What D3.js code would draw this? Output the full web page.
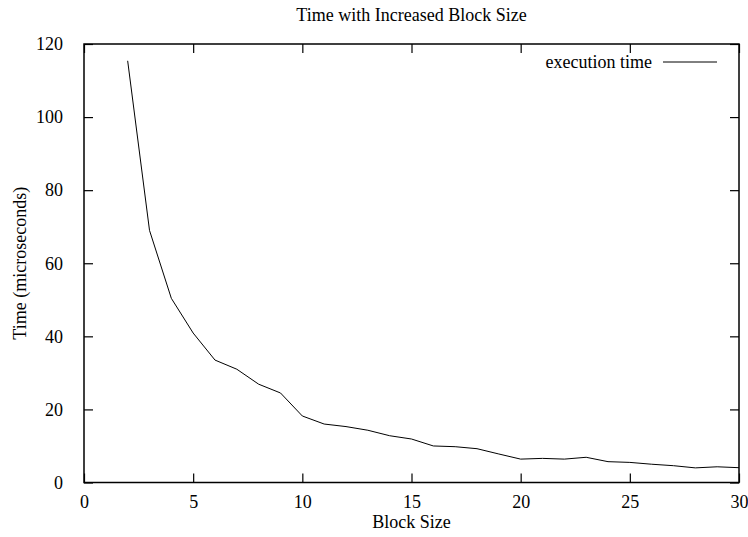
<!DOCTYPE html>
<html>
<head>
<meta charset="utf-8">
<script src="https://cdn.jsdelivr.net/npm/d3@7"></script>
<style>
  html, body { margin: 0; padding: 0; background: #fff; }
  svg { display: block; }
  text { font-family: "Liberation Serif", "Times New Roman", serif; fill: #000; }
</style>
</head>
<body>
<svg id="chart" width="748" height="537"></svg>
<script>
const blockSize = [2,3,4,5,6,7,8,9,10,11,12,13,14,15,16,17,18,19,20,21,22,23,24,25,26,27,28,29,30];
const execTime  = [115.4,69.0,50.4,40.9,33.5,31.0,26.9,24.5,18.2,16.0,15.3,14.3,12.8,11.9,10.0,9.8,9.25,7.8,6.4,6.6,6.4,6.9,5.7,5.5,5.0,4.6,4.0,4.3,4.05];
const xTicks = [0,5,10,15,20,25,30];
const yTicks = [0,20,40,60,80,100,120];
const title = "Time with Increased Block Size";
const xLabel = "Block Size";
const yLabel = "Time (microseconds)";
const legendLabel = "execution time";

const svg = d3.select("#chart");
const m = {left: 84, right: 739, top: 44, bottom: 482.5};
const x = d3.scaleLinear().domain([0, 30]).range([m.left, m.right]);
const y = d3.scaleLinear().domain([0, 120]).range([m.bottom, m.top]);
const fs = 18;
const font = '"Liberation Serif", "Times New Roman", serif';
const tick = 9;

const gx = svg.append("g").attr("transform", `translate(0,${m.bottom})`)
  .call(d3.axisBottom(x).tickValues(xTicks).tickSize(-tick).tickPadding(13).tickSizeOuter(0));
const gxt = svg.append("g").attr("transform", `translate(0,${m.top})`)
  .call(d3.axisTop(x).tickValues(xTicks).tickSize(-tick).tickFormat("").tickSizeOuter(0));
const gy = svg.append("g").attr("transform", `translate(${m.left},0)`)
  .call(d3.axisLeft(y).tickValues(yTicks).tickSize(-tick).tickPadding(21).tickSizeOuter(0));
const gyr = svg.append("g").attr("transform", `translate(${m.right},0)`)
  .call(d3.axisRight(y).tickValues(yTicks).tickSize(-tick).tickFormat("").tickSizeOuter(0));

[gx, gxt, gy, gyr].forEach(g => {
  g.attr("font-family", font).attr("font-size", fs);
  g.select(".domain").remove();
  g.selectAll("line").attr("stroke", "#000").attr("stroke-width", 1.2);
  g.selectAll("text").attr("fill", "#000");
});

svg.append("rect")
  .attr("x", m.left).attr("y", m.top)
  .attr("width", m.right - m.left).attr("height", m.bottom - m.top)
  .attr("fill", "none").attr("stroke", "#000").attr("stroke-width", 1.5);

const line = d3.line().x((d, i) => x(blockSize[i])).y(d => y(d));
svg.append("path").datum(execTime)
  .attr("d", line).attr("fill", "none").attr("stroke", "#000").attr("stroke-width", 1);

svg.append("text").attr("x", (m.left + m.right) / 2).attr("y", 21)
  .attr("text-anchor", "middle").attr("font-family", font).attr("font-size", fs).text(title);
svg.append("text").attr("x", (m.left + m.right) / 2).attr("y", 528)
  .attr("text-anchor", "middle").attr("font-family", font).attr("font-size", fs).text(xLabel);
svg.append("text").attr("transform", `translate(26,${(m.top + m.bottom) / 2}) rotate(-90)`)
  .attr("text-anchor", "middle").attr("font-family", font).attr("font-size", fs).text(yLabel);

svg.append("text").attr("x", 652).attr("y", 68)
  .attr("text-anchor", "end").attr("font-family", font).attr("font-size", fs).text(legendLabel);
svg.append("line").attr("x1", 663).attr("x2", 717).attr("y1", 62).attr("y2", 62)
  .attr("stroke", "#000").attr("stroke-width", 1);
</script>
</body>
</html>
